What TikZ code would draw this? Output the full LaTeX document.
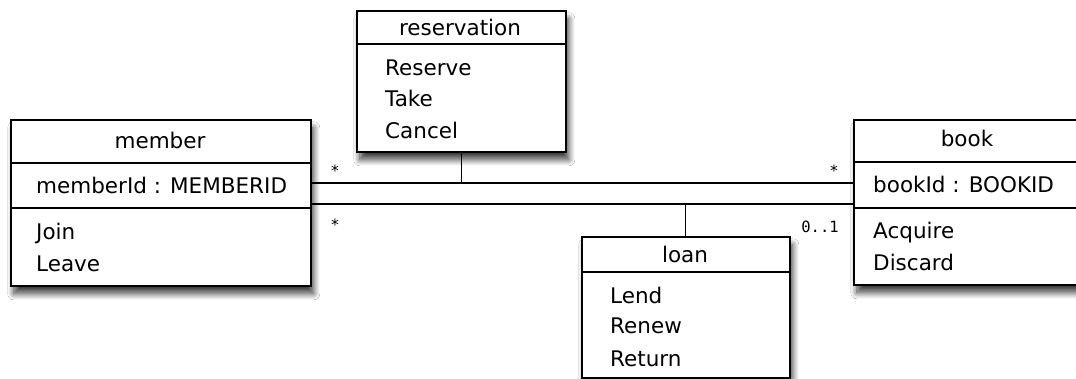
\documentclass[tikz,border=0pt]{standalone}
\usepackage{fontspec}
\setmainfont{DejaVu Sans}
\newfontfamily\multfont{DejaVu Sans Mono}
\usetikzlibrary{shadows.blur,calc}
\begin{document}
\begin{tikzpicture}[x=1pt,y=-1pt,
  classbox/.style={draw=black, line width=1.6pt, fill=white, inner sep=0pt, anchor=north west,
    blur shadow={shadow xshift=3pt, shadow yshift=-8pt, shadow blur radius=6pt, shadow blur steps=12, shadow opacity=75}},
  sepline/.style={line width=1.5pt},
  assoc/.style={line width=1.3pt},
  txt/.style={font=\fontsize{21.5}{25}\selectfont, inner sep=0pt, anchor=base west},
  title/.style={font=\fontsize{21.5}{25}\selectfont, inner sep=0pt, anchor=base},
  mult/.style={font=\multfont\fontsize{15.5}{18}\selectfont, inner sep=0pt}]
\useasboundingbox (0,0) rectangle (1076,379);
\fill[white] (0,0) rectangle (1076,379);

% class boxes
\node[classbox, minimum width=300pt, minimum height=166pt] (member) at (10,119) {};
\node[classbox, minimum width=209pt, minimum height=141pt] (reservation) at (356,10) {};
\node[classbox, minimum width=228pt, minimum height=165pt] (book) at (853,119) {};
\node[classbox, minimum width=208pt, minimum height=141pt] (loan) at (581,236) {};

% compartments
\draw[sepline] ($(member.north west)+(0,44)$) -- ($(member.north east)+(0,44)$);
\draw[sepline] ($(member.north west)+(0,89)$) -- ($(member.north east)+(0,89)$);
\draw[sepline] ($(reservation.north west)+(0,34)$) -- ($(reservation.north east)+(0,34)$);
\draw[sepline] ($(book.north west)+(0,43)$) -- ($(book.north east)+(0,43)$);
\draw[sepline] ($(book.north west)+(0,89)$) -- ($(book.north east)+(0,89)$);
\draw[sepline] ($(loan.north west)+(0,36)$) -- ($(loan.north east)+(0,36)$);

% texts
\node[title] (memberT) at (160,149) {member};
\node[txt] (memberA) at (36,194) {memberId : MEMBERID};
\node[txt] (memberO1) at (36,240) {Join};
\node[txt] (memberO2) at (36,272) {Leave};

\node[title] (reservationT) at (460,36) {reservation};
\node[txt] (resO1) at (385,76) {Reserve};
\node[txt] (resO2) at (385,107) {Take};
\node[txt] (resO3) at (385,139) {Cancel};

\node[title] (bookT) at (967,147) {book};
\node[txt] (bookA) at (873,193) {bookId : BOOKID};
\node[txt] (bookO1) at (873,239) {Acquire};
\node[txt] (bookO2) at (873,271) {Discard};

\node[title] (loanT) at (685,263) {loan};
\node[txt] (loanO1) at (610,303) {Lend};
\node[txt] (loanO2) at (610,334) {Renew};
\node[txt] (loanO3) at (610,366) {Return};

% associations
\coordinate (upper) at (0,183);
\coordinate (lower) at (0,204);
\draw[assoc] (member.east |- upper) -- (book.west |- upper);
\draw[assoc] (member.east |- lower) -- (book.west |- lower);
\coordinate (resjoin) at (reservation.south |- upper);
\coordinate (loanjoin) at (loan.north |- lower);
\draw[assoc] (reservation.south) -- (resjoin);
\draw[assoc] (loan.north) -- (loanjoin);

% multiplicities
\node[mult] (m1) at (335,171) {*};
\node[mult] (m2) at (335,225) {*};
\node[mult] (m3) at (834,171) {*};
\node[mult] (m4) at (820,227) {0..1};
\end{tikzpicture}
\end{document}
